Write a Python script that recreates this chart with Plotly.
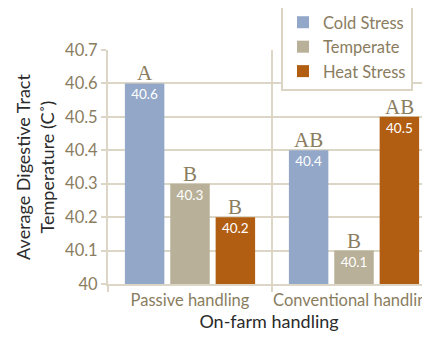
import plotly.graph_objects as go

categories = ["Passive handling", "Conventional handling"]
series_names = ["Cold Stress", "Temperate", "Heat Stress"]
cold = [40.6, 40.4]
temperate = [40.3, 40.1]
heat = [40.2, 40.5]
cold_letters = ["A", "AB"]
temperate_letters = ["B", "B"]
heat_letters = ["B", "AB"]
y_ticks = [40, 40.1, 40.2, 40.3, 40.4, 40.5, 40.6, 40.7]
y_tick_labels = ["40", "40.1", "40.2", "40.3", "40.4", "40.5", "40.6", "40.7"]

colors = ["#93a8c9", "#b8b098", "#b25e12"]
tan = "#8a7d5f"
grid = "#dcd6c6"
font = "Lato"
bargap = 0.17
bargroupgap = 0.13

# page body has an 8px margin: figure is sized/offset to compensate
W, H = 422, 329
L, T, B = 100, 42, 53
pw, ph = W - L, H - T - B

fig = go.Figure()
slot = (1 - bargap) / 3
annotations = []
for k, (name, vals, letters, col) in enumerate(zip(series_names, [cold, temperate, heat],
                                    [cold_letters, temperate_letters, heat_letters], colors)):
    fig.add_trace(go.Bar(
        x=categories, y=[v - 40 for v in vals], base=40, name=name,
        marker=dict(color=col, line=dict(width=0)),
        text=[f"{v:.1f}" for v in vals], textposition="inside",
        insidetextanchor="end", textangle=0,
        insidetextfont=dict(color="white", size=13.5, family=font),
        hoverinfo="skip",
    ))
    for i, (v, letter) in enumerate(zip(vals, letters)):
        annotations.append(dict(
            x=i + (k - 1) * slot, y=v, xref="x", yref="y", text=letter,
            showarrow=False, yanchor="bottom", yshift=-4,
            font=dict(family="Liberation Serif", size=21, color=tan),
        ))

fig.update_layout(
    width=W, height=H,
    margin=dict(l=L, r=0, t=T, b=B, autoexpand=False),
    paper_bgcolor="white", plot_bgcolor="white",
    barmode="group", bargap=bargap, bargroupgap=bargroupgap,
    font=dict(family=font, color=tan),
    annotations=annotations,
    legend=dict(
        x=(273 - L) / pw, y=1 + (T + 5) / ph, xanchor="left", yanchor="top",
        bgcolor="white", bordercolor="#ddd5c3", borderwidth=2,
        font=dict(size=16.5, color=tan, family=font),
        itemwidth=30, tracegroupgap=0,
    ),
    showlegend=True,
)

fig.update_xaxes(
    type="category", range=[-0.5, 1.5 - 6 / 164], automargin=False, tickangle=0,
    tickson="boundaries", ticks="outside", ticklen=6, tickcolor=grid, tickwidth=2,
    showgrid=True, gridcolor=grid, gridwidth=2,
    showline=True, linecolor=grid, linewidth=2,
    tickfont=dict(size=16.5, color=tan, family=font),
    title=dict(text="On-farm handling", font=dict(size=18, color="#2b2b2b", family=font), standoff=4),
)
fig.update_yaxes(
    range=[40, 40.7], tickvals=y_ticks, ticktext=y_tick_labels, automargin=False,
    ticks="outside", ticklen=5, tickcolor=grid, tickwidth=2,
    showgrid=True, gridcolor=grid, gridwidth=2, zeroline=False,
    showline=True, linecolor=grid, linewidth=2,
    tickfont=dict(size=16.5, color=tan, family=font),
    title=dict(text="Average Digestive Tract<br>Temperature (C˚)",
               font=dict(size=18, color="#2b2b2b", family=font), standoff=6),
)

fig.write_html("out.html")
